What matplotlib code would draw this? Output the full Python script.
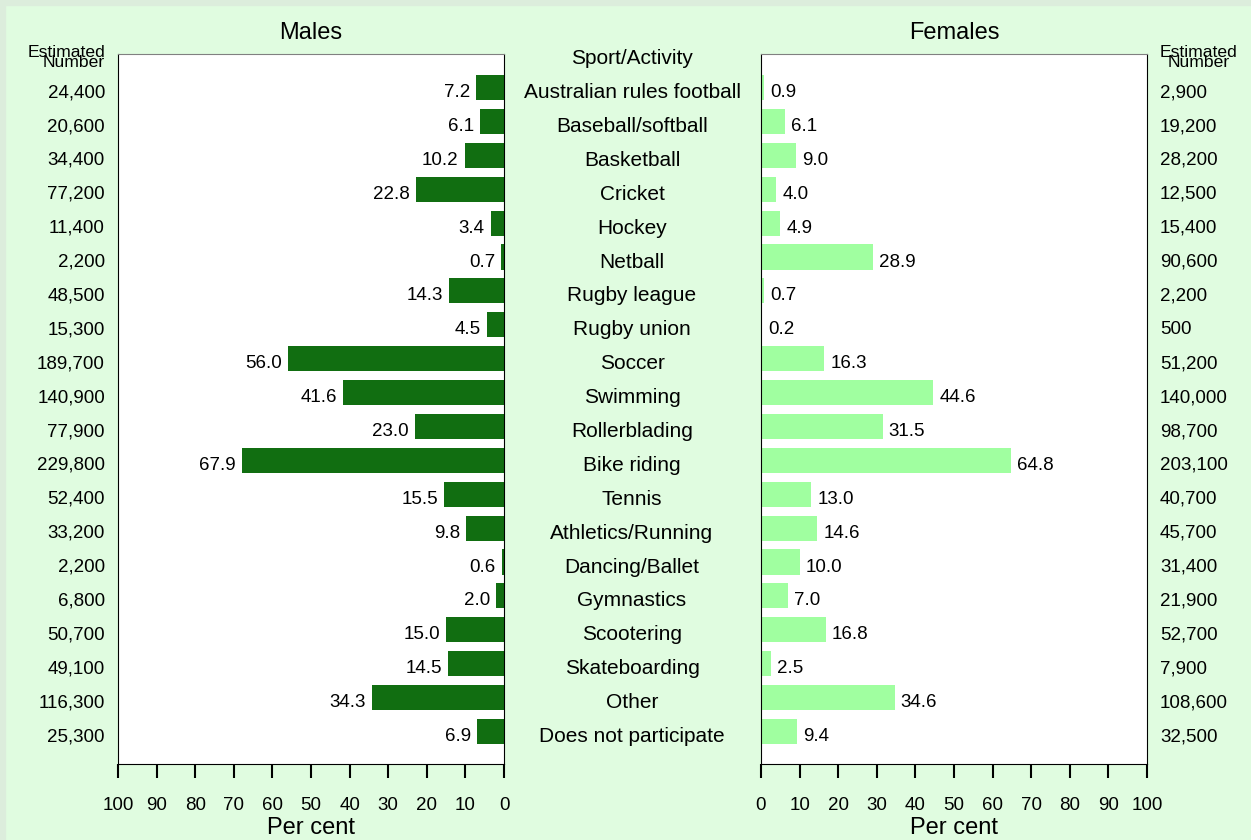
import matplotlib
matplotlib.use("Agg")
import matplotlib.pyplot as plt
from matplotlib.patches import Rectangle
from matplotlib.transforms import blended_transform_factory

plt.rcParams['font.family'] = ['Liberation Sans', 'DejaVu Sans']

activities = [
    "Australian rules football", "Baseball/softball", "Basketball", "Cricket",
    "Hockey", "Netball", "Rugby league", "Rugby union", "Soccer", "Swimming",
    "Rollerblading", "Bike riding", "Tennis", "Athletics/Running",
    "Dancing/Ballet", "Gymnastics", "Scootering", "Skateboarding", "Other",
    "Does not participate",
]
male_pct = [7.2, 6.1, 10.2, 22.8, 3.4, 0.7, 14.3, 4.5, 56.0, 41.6,
            23.0, 67.9, 15.5, 9.8, 0.6, 2.0, 15.0, 14.5, 34.3, 6.9]
male_num = ["24,400", "20,600", "34,400", "77,200", "11,400", "2,200", "48,500",
            "15,300", "189,700", "140,900", "77,900", "229,800", "52,400",
            "33,200", "2,200", "6,800", "50,700", "49,100", "116,300", "25,300"]
female_pct = [0.9, 6.1, 9.0, 4.0, 4.9, 28.9, 0.7, 0.2, 16.3, 44.6,
              31.5, 64.8, 13.0, 14.6, 10.0, 7.0, 16.8, 2.5, 34.6, 9.4]
female_num = ["2,900", "19,200", "28,200", "12,500", "15,400", "90,600", "2,200",
              "500", "51,200", "140,000", "98,700", "203,100", "40,700",
              "45,700", "31,400", "21,900", "52,700", "7,900", "108,600", "32,500"]
ticks = list(range(0, 101, 10))

W, H = 1251, 840
bg = "#E0FCE0"
fig = plt.figure(figsize=(W / 100, H / 100), dpi=100, facecolor=bg)
# thin greyish band on top and left edges
fig.patches.append(Rectangle((0, 0), 5 / W, 1, transform=fig.transFigure, color="#DCEDDC", zorder=0))
fig.patches.append(Rectangle((0, 1 - 5 / H), 1, 5 / H, transform=fig.transFigure, color="#DCEDDC", zorder=0))

def px_box(x0, x1, y0, y1):
    return [x0 / W, 1 - y1 / H, (x1 - x0) / W, (y1 - y0) / H]

axm = fig.add_axes(px_box(118, 504, 54, 764))
axf = fig.add_axes(px_box(761, 1147, 54, 764))

ypos = list(range(len(activities)))
axm.barh(ypos, male_pct, height=0.74, color="#116E11")
axf.barh(ypos, female_pct, height=0.74, color="#A0FFA0")

for ax in (axm, axf):
    ax.set_ylim(19.96, -0.99)
    ax.set_yticks([])
    ax.set_xticks(ticks)
    ax.tick_params(axis='x', direction='out', length=10, width=1.5, pad=14, labelsize=13.5)
    ax.spines['top'].set_color("#808080")
    for s in ('left', 'right', 'bottom'):
        ax.spines[s].set_color("black")
    ax.set_facecolor("white")
    ax.set_xlabel("Per cent", fontsize=17, labelpad=2)

axm.set_xlim(100, 0)
axf.set_xlim(0, 100)

dy = 0.15  # text sits a little below the bar centre
for y, v in zip(ypos, male_pct):
    axm.annotate(f"{v:.1f}", (v, y + dy), xytext=(-4.5, 0), textcoords='offset points',
                 ha='right', va='center', fontsize=13.5)
for y, v in zip(ypos, female_pct):
    axf.annotate(f"{v:.1f}", (v, y + dy), xytext=(4.5, 0), textcoords='offset points',
                 ha='left', va='center', fontsize=13.5)

tm = blended_transform_factory(fig.transFigure, axm.transData)
for y, name, mn, fn in zip(ypos, activities, male_num, female_num):
    fig.text(105 / W, y + dy, mn, transform=tm, ha='right', va='center', fontsize=13.5)
    fig.text(1160 / W, y + dy, fn, transform=tm, ha='left', va='center', fontsize=13.5)
    fig.text(632 / W, y + dy, name, transform=tm, ha='center', va='center', fontsize=15)

fig.text(632 / W, -1 + dy, "Sport/Activity", transform=tm, ha='center', va='center', fontsize=15)
fig.text(105 / W, -0.88, "Estimated\nNumber", transform=tm, ha='right', va='center',
         fontsize=12.6, linespacing=0.6, multialignment='right')
fig.text(1160 / W, -0.88, "Estimated\nNumber", transform=tm, ha='left', va='center',
         fontsize=12.6, linespacing=0.6, multialignment='center')

fig.text(311 / W, 1 - 33 / H, "Males", ha='center', va='center', fontsize=17)
fig.text(954 / W, 1 - 33 / H, "Females", ha='center', va='center', fontsize=17)

fig.savefig("out.png", dpi=100, facecolor=bg)
